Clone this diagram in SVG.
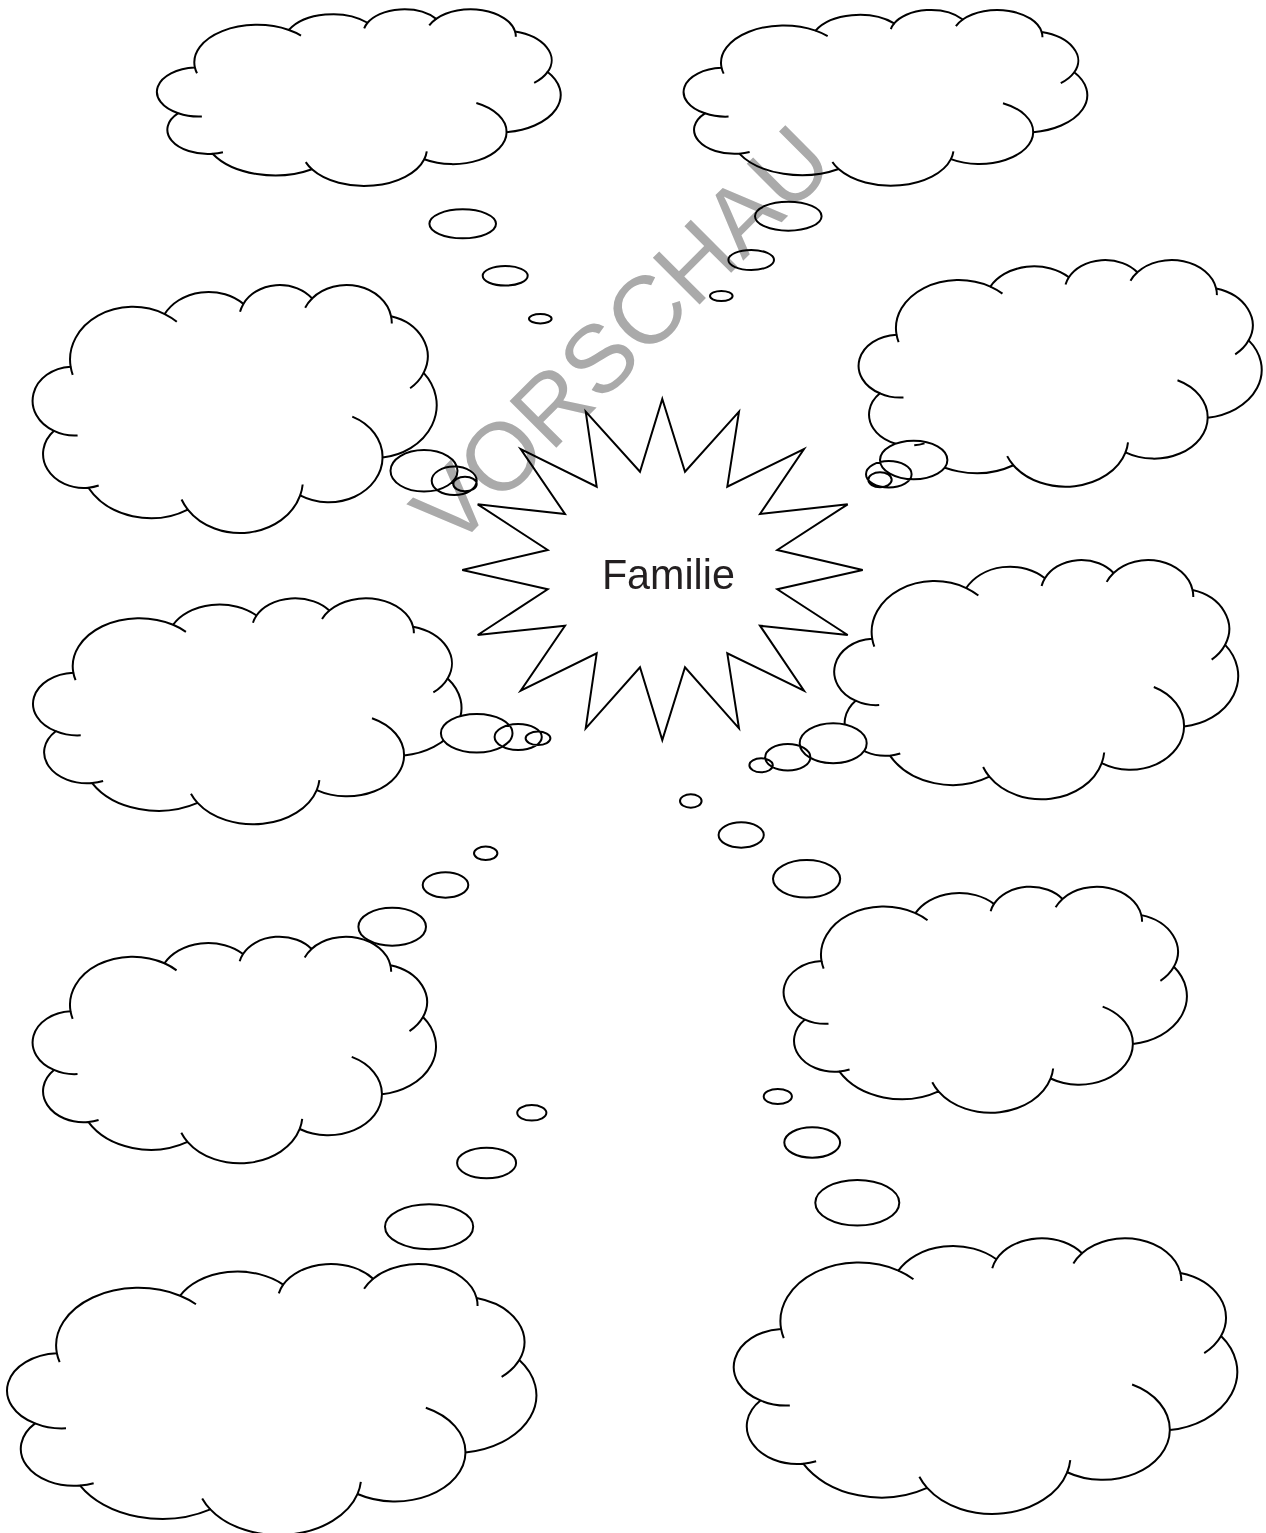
<svg xmlns="http://www.w3.org/2000/svg" width="1266" height="1533" viewBox="0 0 1266 1533">
<style>
.body{fill:#fff;stroke:#000;stroke-width:2;vector-effect:non-scaling-stroke;stroke-linejoin:round}
.ln{fill:none;stroke:#000;stroke-width:2;vector-effect:non-scaling-stroke;stroke-linecap:butt}
.bub{fill:#fff;stroke:#000;stroke-width:2}
.star{fill:#fff;stroke:#000;stroke-width:2;stroke-linejoin:miter}
.label{font-family:"Liberation Sans",Arial,sans-serif;font-size:43px;fill:#231f20}
.wm{font-family:"Liberation Sans",Arial,sans-serif;font-size:96px;fill:#aaaaaa;mix-blend-mode:multiply}
</style>
<defs>
<path id="cloudBody" class="body" transform="translate(0.34,-1.38)" d="M39,143.7 A67.53,91.9 0 0 1 140.05,52.02 A53.33,72.67 0 0 1 224.58,34.3 A43.65,59.45 0 0 1 298.35,24.78 A48.57,65.95 0 0 1 383.2,55.73 A53.33,72.73 0 0 1 418.21,154.57 A67.75,92.2 0 0 1 374.08,302.01 A57.85,78.67 0 0 1 285.59,368.12 A67.52,92.15 0 0 1 164.85,392.65 A77.2,105.43 0 0 1 58.07,354.71 A43.6,59.18 0 0 1 21.16,255.5 A43.45,59.45 0 0 1 39,143.7 Z"/>
<path id="cloudTicks" class="ln" transform="translate(0.34,-1.38)" d="M46.49,263.47 A43.45,59.45 0 0 1 21.16,255.5 M69.16,350.9 A43.6,59.18 0 0 1 58.07,354.71 M164.85,392.65 A67.52,92.15 0 0 1 158.16,375.23 M288.26,349.03 A67.52,92.15 0 0 1 285.59,368.12 M341.56,230.66 A57.85,78.67 0 0 1 374.08,302.01 M418.21,154.57 A53.33,72.73 0 0 1 403.71,181.36 M383.2,55.73 A48.57,65.95 0 0 1 383.97,68.37 M290.93,40.91 A48.57,65.95 0 0 1 298.35,24.78 M220.99,48.2 A43.65,59.45 0 0 1 224.58,34.3 M140.05,52.02 A67.53,91.9 0 0 1 153.06,65.52 M41.27,157.89 A67.53,91.9 0 0 1 39,143.7"/>
</defs>

<g id="cloud1">
<use href="#cloudBody" transform="translate(158.3,9.3) scale(0.93025,0.40885)"/>
<path class="bub" d="M429.4,223.8 a33.3,14.5 0 1 0 66.6,0 a33.3,14.5 0 1 0 -66.6,0z M482.7,275.8 a22.5,9.8 0 1 0 45,0 a22.5,9.8 0 1 0 -45,0z M529,318.7 a11.3,4.7 0 1 0 22.6,0 a11.3,4.7 0 1 0 -22.6,0z"/>
<use href="#cloudTicks" transform="translate(158.3,9.3) scale(0.93025,0.40885)"/>
</g>

<g id="cloud2">
<use href="#cloudBody" transform="translate(685,10) scale(0.93002,0.40653)"/>
<path class="bub" d="M755,216.2 a33.3,14.5 0 1 0 66.6,0 a33.3,14.5 0 1 0 -66.6,0z M728.4,260 a22.8,10 0 1 0 45.6,0 a22.8,10 0 1 0 -45.6,0z M710,296 a11.3,5 0 1 0 22.6,0 a11.3,5 0 1 0 -22.6,0z"/>
<use href="#cloudTicks" transform="translate(685,10) scale(0.93002,0.40653)"/>
</g>

<g id="cloud3">
<use href="#cloudBody" transform="translate(34,285) scale(0.93095,0.57382)"/>
<path class="bub" d="M390.5,470.8 a33.5,20.8 0 1 0 67,0 a33.5,20.8 0 1 0 -67,0z M431.7,480.8 a22.5,14.2 0 1 0 45,0 a22.5,14.2 0 1 0 -45,0z M453.3,484 a11.7,7.3 0 1 0 23.4,0 a11.7,7.3 0 1 0 -23.4,0z"/>
<use href="#cloudTicks" transform="translate(34,285) scale(0.93095,0.57382)"/>
</g>

<g id="cloud4">
<use href="#cloudBody" transform="translate(860,260) scale(0.92864,0.52454)"/>
<path class="bub" d="M880,460 a33.7,19.3 0 1 0 67.4,0 a33.7,19.3 0 1 0 -67.4,0z M866,474.2 a22.8,13.2 0 1 0 45.6,0 a22.8,13.2 0 1 0 -45.6,0z M868.3,479.8 a11.7,7.5 0 1 0 23.4,0 a11.7,7.5 0 1 0 -23.4,0z"/>
<use href="#cloudTicks" transform="translate(860,260) scale(0.92864,0.52454)"/>
</g>

<g id="cloud5">
<use href="#cloudBody" transform="translate(34.5,598.3) scale(0.98712,0.52292)"/>
<path class="bub" d="M440.9,733.2 a35.8,19.2 0 1 0 71.6,0 a35.8,19.2 0 1 0 -71.6,0z M494.6,737 a23.6,13 0 1 0 47.2,0 a23.6,13 0 1 0 -47.2,0z M525.6,738.3 a12.4,6.7 0 1 0 24.8,0 a12.4,6.7 0 1 0 -24.8,0z"/>
<use href="#cloudTicks" transform="translate(34.5,598.3) scale(0.98712,0.52292)"/>
</g>

<g id="cloud6">
<use href="#cloudBody" transform="translate(835.6,560) scale(0.93072,0.55369)"/>
<path class="bub" d="M799.7,743.3 a33.5,20 0 1 0 67,0 a33.5,20 0 1 0 -67,0z M765.2,757.3 a22.6,13.3 0 1 0 45.2,0 a22.6,13.3 0 1 0 -45.2,0z M749.4,765.3 a11.7,7 0 1 0 23.4,0 a11.7,7 0 1 0 -23.4,0z"/>
<use href="#cloudTicks" transform="translate(835.6,560) scale(0.93072,0.55369)"/>
</g>

<g id="cloud7">
<use href="#cloudBody" transform="translate(34,936.7) scale(0.92933,0.52431)"/>
<path class="bub" d="M474,853.3 a11.7,6.7 0 1 0 23.4,0 a11.7,6.7 0 1 0 -23.4,0z M422.7,885 a22.8,12.7 0 1 0 45.6,0 a22.8,12.7 0 1 0 -45.6,0z M358.4,926.7 a33.8,19 0 1 0 67.6,0 a33.8,19 0 1 0 -67.6,0z"/>
<use href="#cloudTicks" transform="translate(34,936.7) scale(0.92933,0.52431)"/>
</g>

<g id="cloud8">
<use href="#cloudBody" transform="translate(785,886.7) scale(0.9291,0.52292)"/>
<path class="bub" d="M680,801 a10.8,6.7 0 1 0 21.6,0 a10.8,6.7 0 1 0 -21.6,0z M718.6,835 a22.6,12.7 0 1 0 45.2,0 a22.6,12.7 0 1 0 -45.2,0z M773,878.8 a33.6,18.8 0 1 0 67.2,0 a33.6,18.8 0 1 0 -67.2,0z"/>
<use href="#cloudTicks" transform="translate(785,886.7) scale(0.9291,0.52292)"/>
</g>

<g id="cloud9">
<use href="#cloudBody" transform="translate(8.9,1264) scale(1.21946,0.62704)"/>
<path class="bub" d="M517.2,1112.8 a14.6,7.8 0 1 0 29.2,0 a14.6,7.8 0 1 0 -29.2,0z M457.1,1163 a29.5,15.3 0 1 0 59,0 a29.5,15.3 0 1 0 -59,0z M385,1226.8 a44.1,22.5 0 1 0 88.2,0 a44.1,22.5 0 1 0 -88.2,0z"/>
<use href="#cloudTicks" transform="translate(8.9,1264) scale(1.21946,0.62704)"/>
</g>

<g id="cloud10">
<use href="#cloudBody" transform="translate(735.5,1238.3) scale(1.16004,0.63792)"/>
<path class="bub" d="M763.7,1096.5 a14.1,7.5 0 1 0 28.2,0 a14.1,7.5 0 1 0 -28.2,0z M784.3,1142.5 a27.9,15.2 0 1 0 55.8,0 a27.9,15.2 0 1 0 -55.8,0z M815.3,1202.8 a42,22.8 0 1 0 84,0 a42,22.8 0 1 0 -84,0z"/>
<use href="#cloudTicks" transform="translate(735.5,1238.3) scale(1.16004,0.63792)"/>
</g>

<g id="star">
<polygon class="star" points="662.3,399 685,471.7 739,411.7 727.3,486.7 804,449 760,514 847.7,504.3 777.3,550 862.7,570 777.3,589.3 847.7,635 760,625.7 804,690.7 727.3,653.3 739,728.3 685,667.3 662.3,740 640,667.3 585.7,728.3 596.7,653.3 520.7,690.7 565,625.7 477.7,635 547.7,589.3 462.3,570 547.7,550 477.7,504.3 565,514 520.7,449 596.7,486.7 585.7,411.7 640,471.7"/>
<text class="label" x="668.4" y="589.3" text-anchor="middle" textLength="133" lengthAdjust="spacingAndGlyphs">Familie</text>
</g>

<text class="wm" transform="translate(645,359) rotate(-45)" text-anchor="middle">VORSCHAU</text>
</svg>
